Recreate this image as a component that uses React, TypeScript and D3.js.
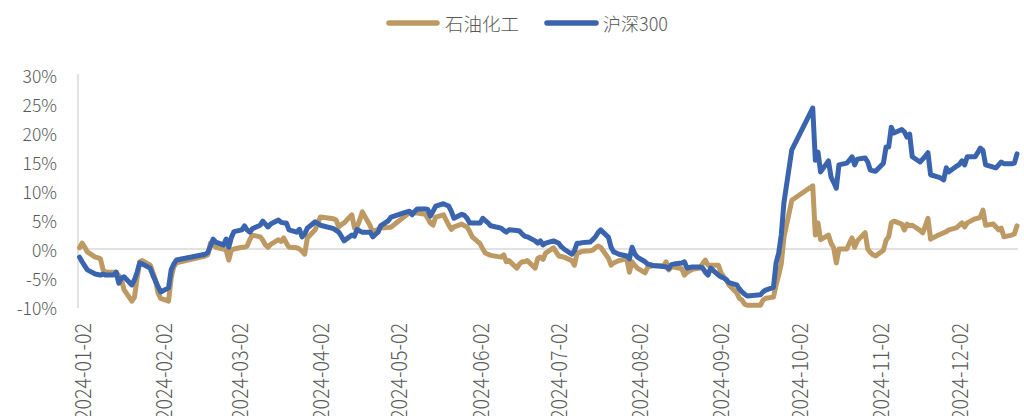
import React from "react";
import * as d3 from "d3";

// 石油化工 cumulative return (%), by trading day of 2024
const petroSeries: [string, number][] = [
  ["01-02", 0.2], ["01-03", 1.0], ["01-04", 0.3], ["01-05", -0.5], ["01-08", -1.4], ["01-09", -1.5], ["01-10", -1.7],
  ["01-11", -3.6], ["01-12", -4.0], ["01-15", -4.0], ["01-16", -4.0], ["01-17", -4.6], ["01-18", -5.3], ["01-19", -7.0],
  ["01-22", -9.0], ["01-23", -8.3], ["01-24", -5.0], ["01-25", -2.2], ["01-26", -2.0], ["01-29", -2.8], ["01-30", -4.0],
  ["01-31", -5.3], ["02-01", -7.6], ["02-02", -8.5], ["02-05", -9.0], ["02-06", -5.0], ["02-07", -3.1], ["02-08", -2.4],
  ["02-19", -1.2], ["02-20", -1.0], ["02-21", 1.0], ["02-22", 0.8], ["02-23", 0.3], ["02-26", 0.0], ["02-27", -0.2],
  ["02-28", -1.9], ["02-29", -0.2], ["03-01", 0.0], ["03-04", 0.3], ["03-05", 0.3], ["03-06", 0.5], ["03-07", 1.6],
  ["03-08", 2.4], ["03-11", 2.1], ["03-12", 1.5], ["03-13", 0.7], ["03-14", 0.3], ["03-15", 0.8], ["03-18", 1.6],
  ["03-19", 1.3], ["03-20", 1.9], ["03-21", 1.0], ["03-22", 0.3], ["03-25", 0.2], ["03-26", 0.0], ["03-27", -0.4],
  ["03-28", -0.9], ["03-29", 1.9], ["04-01", 3.3], ["04-02", 4.5], ["04-03", 5.5], ["04-08", 5.2], ["04-09", 5.0],
  ["04-10", 3.8], ["04-11", 4.2], ["04-12", 4.5], ["04-15", 5.9], ["04-16", 3.6], ["04-17", 3.8], ["04-18", 5.0],
  ["04-19", 6.4], ["04-22", 4.0], ["04-23", 2.9], ["04-24", 3.2], ["04-25", 3.4], ["04-26", 3.6], ["04-29", 3.7],
  ["04-30", 3.8], ["05-06", 5.9], ["05-07", 6.2], ["05-08", 6.2], ["05-09", 6.2], ["05-10", 6.2], ["05-13", 6.0],
  ["05-14", 5.3], ["05-15", 4.5], ["05-16", 4.1], ["05-17", 5.5], ["05-20", 5.9], ["05-21", 5.0], ["05-22", 4.1],
  ["05-23", 3.4], ["05-24", 3.8], ["05-27", 4.3], ["05-28", 4.0], ["05-29", 3.8], ["05-30", 3.0], ["05-31", 2.1],
  ["06-03", 0.9], ["06-04", 0.0], ["06-05", -0.7], ["06-06", -0.9], ["06-07", -1.1], ["06-11", -1.4], ["06-12", -1.0],
  ["06-13", -2.2], ["06-14", -2.0], ["06-17", -3.3], ["06-18", -2.6], ["06-19", -2.2], ["06-20", -2.2], ["06-21", -2.0],
  ["06-24", -3.3], ["06-25", -1.6], ["06-26", -1.4], ["06-27", -1.8], ["06-28", -0.7], ["07-01", 0.2], ["07-02", -0.5],
  ["07-03", -1.2], ["07-04", -1.3], ["07-05", -1.4], ["07-08", -2.0], ["07-09", -2.8], ["07-10", -0.7], ["07-11", -0.6],
  ["07-12", -0.4], ["07-15", -0.3], ["07-16", -0.2], ["07-17", 0.2], ["07-18", 0.5], ["07-19", 0.3], ["07-22", -1.6],
  ["07-23", -2.8], ["07-24", -2.4], ["07-25", -2.2], ["07-26", -2.0], ["07-29", -1.7], ["07-30", -4.0], ["07-31", -2.2],
  ["08-01", -2.8], ["08-02", -3.3], ["08-05", -4.1], ["08-06", -3.1], ["08-07", -3.0], ["08-08", -2.8], ["08-09", -2.9],
  ["08-12", -2.9], ["08-13", -2.2], ["08-14", -3.6], ["08-15", -3.1], ["08-16", -3.1], ["08-19", -3.4], ["08-20", -4.5],
  ["08-21", -4.0], ["08-22", -3.8], ["08-23", -3.5], ["08-26", -3.3], ["08-27", -2.5], ["08-28", -1.9], ["08-29", -2.8],
  ["08-30", -2.8], ["09-02", -2.8], ["09-03", -4.1], ["09-04", -4.8], ["09-05", -5.3], ["09-06", -6.2], ["09-09", -7.6],
  ["09-10", -8.5], ["09-11", -8.8], ["09-12", -9.5], ["09-13", -9.7], ["09-18", -9.7], ["09-19", -8.8], ["09-20", -8.5],
  ["09-23", -8.3], ["09-24", -6.2], ["09-25", -4.5], ["09-26", -2.5], ["09-27", 2.0], ["09-30", 8.4], ["10-08", 10.9],
  ["10-09", 2.4], ["10-10", 4.5], ["10-11", 1.6], ["10-14", 2.4], ["10-15", 1.0], ["10-16", 0.2], ["10-17", -2.4],
  ["10-18", 0.0], ["10-21", 0.0], ["10-22", 1.0], ["10-23", 1.9], ["10-24", 0.3], ["10-25", 1.4], ["10-28", 2.8],
  ["10-29", 0.0], ["10-30", -0.6], ["10-31", -1.0], ["11-01", -1.2], ["11-04", -0.2], ["11-05", 1.5], ["11-06", 2.1],
  ["11-07", 4.5], ["11-08", 4.8], ["11-11", 4.3], ["11-12", 3.3], ["11-13", 4.3], ["11-14", 4.0], ["11-15", 4.1],
  ["11-18", 3.2], ["11-19", 2.8], ["11-20", 4.0], ["11-21", 5.3], ["11-22", 1.7], ["11-25", 2.4], ["11-26", 2.6],
  ["11-27", 2.8], ["11-28", 3.0], ["11-29", 3.3], ["12-02", 3.7], ["12-03", 4.1], ["12-04", 4.5], ["12-05", 3.8],
  ["12-06", 4.5], ["12-09", 5.2], ["12-10", 5.3], ["12-11", 5.5], ["12-12", 6.7], ["12-13", 4.1], ["12-16", 4.3],
  ["12-17", 3.8], ["12-18", 3.3], ["12-19", 3.6], ["12-20", 2.1], ["12-23", 2.4], ["12-24", 2.6], ["12-25", 4.0],
];

// 沪深300 cumulative return (%)
const hs300Series: [string, number][] = [
  ["01-02", -1.4], ["01-03", -2.2], ["01-04", -2.9], ["01-05", -3.6], ["01-08", -4.3], ["01-09", -4.4], ["01-10", -4.5],
  ["01-11", -4.3], ["01-12", -4.5], ["01-15", -4.5], ["01-16", -4.0], ["01-17", -5.9], ["01-18", -5.0], ["01-19", -4.8],
  ["01-22", -6.2], ["01-23", -5.3], ["01-24", -4.0], ["01-25", -2.4], ["01-26", -2.6], ["01-29", -3.3], ["01-30", -4.5],
  ["01-31", -5.5], ["02-01", -6.5], ["02-02", -7.4], ["02-05", -6.7], ["02-06", -3.6], ["02-07", -2.6], ["02-08", -1.9],
  ["02-19", -0.9], ["02-20", -0.6], ["02-21", 0.5], ["02-22", 1.7], ["02-23", 1.2], ["02-26", 0.7], ["02-27", 1.7],
  ["02-28", 0.3], ["02-29", 2.0], ["03-01", 3.0], ["03-04", 3.3], ["03-05", 4.0], ["03-06", 3.3], ["03-07", 2.9],
  ["03-08", 3.5], ["03-11", 4.1], ["03-12", 4.8], ["03-13", 4.3], ["03-14", 3.8], ["03-15", 4.3], ["03-18", 5.0],
  ["03-19", 4.6], ["03-20", 4.5], ["03-21", 4.5], ["03-22", 3.3], ["03-25", 2.9], ["03-26", 3.4], ["03-27", 2.1],
  ["03-28", 2.6], ["03-29", 3.6], ["04-01", 4.7], ["04-02", 4.4], ["04-03", 4.1], ["04-08", 3.5], ["04-09", 3.2],
  ["04-10", 2.9], ["04-11", 2.2], ["04-12", 1.4], ["04-15", 2.4], ["04-16", 2.2], ["04-17", 3.4], ["04-18", 3.1],
  ["04-19", 2.9], ["04-22", 2.9], ["04-23", 2.1], ["04-24", 2.5], ["04-25", 2.9], ["04-26", 4.0], ["04-29", 4.9],
  ["04-30", 5.5], ["05-06", 6.4], ["05-07", 6.5], ["05-08", 5.9], ["05-09", 6.5], ["05-10", 6.9], ["05-13", 6.9],
  ["05-14", 6.8], ["05-15", 5.7], ["05-16", 6.5], ["05-17", 7.4], ["05-20", 7.8], ["05-21", 7.6], ["05-22", 7.4],
  ["05-23", 6.5], ["05-24", 5.3], ["05-27", 6.0], ["05-28", 5.8], ["05-29", 5.3], ["05-30", 4.5], ["05-31", 4.5],
  ["06-03", 4.5], ["06-04", 5.3], ["06-05", 4.9], ["06-06", 4.5], ["06-07", 4.0], ["06-11", 3.6], ["06-12", 3.2],
  ["06-13", 2.9], ["06-14", 3.3], ["06-17", 3.2], ["06-18", 3.1], ["06-19", 2.6], ["06-20", 2.2], ["06-21", 2.1],
  ["06-24", 1.4], ["06-25", 1.0], ["06-26", 1.4], ["06-27", 0.7], ["06-28", 1.0], ["07-01", 1.4], ["07-02", 1.2],
  ["07-03", 1.0], ["07-04", 0.4], ["07-05", 0.0], ["07-08", -0.9], ["07-09", -0.3], ["07-10", 1.0], ["07-11", 1.0],
  ["07-12", 1.1], ["07-15", 1.2], ["07-16", 1.6], ["07-17", 2.1], ["07-18", 2.8], ["07-19", 3.3], ["07-22", 2.0],
  ["07-23", 0.3], ["07-24", -0.5], ["07-25", -0.7], ["07-26", -0.9], ["07-29", -1.2], ["07-30", -1.7], ["07-31", 0.3],
  ["08-01", -0.8], ["08-02", -1.4], ["08-05", -2.2], ["08-06", -2.6], ["08-07", -2.7], ["08-08", -2.9], ["08-09", -2.9],
  ["08-12", -3.0], ["08-13", -3.1], ["08-14", -3.4], ["08-15", -2.7], ["08-16", -2.6], ["08-19", -2.4], ["08-20", -2.2],
  ["08-21", -3.3], ["08-22", -3.2], ["08-23", -3.1], ["08-26", -3.1], ["08-27", -3.3], ["08-28", -4.0], ["08-29", -4.5],
  ["08-30", -3.3], ["09-02", -4.5], ["09-03", -4.8], ["09-04", -5.0], ["09-05", -5.3], ["09-06", -5.8], ["09-09", -6.2],
  ["09-10", -6.9], ["09-11", -7.4], ["09-12", -7.8], ["09-13", -8.1], ["09-18", -7.9], ["09-19", -7.4], ["09-20", -7.1],
  ["09-23", -6.6], ["09-24", -2.4], ["09-25", -0.7], ["09-26", 2.5], ["09-27", 8.0], ["09-30", 17.1], ["10-08", 24.3],
  ["10-09", 15.3], ["10-10", 16.7], ["10-11", 13.3], ["10-14", 15.2], ["10-15", 12.4], ["10-16", 11.5], ["10-17", 10.5],
  ["10-18", 14.5], ["10-21", 14.8], ["10-22", 15.3], ["10-23", 15.9], ["10-24", 14.5], ["10-25", 15.5], ["10-28", 15.7],
  ["10-29", 15.0], ["10-30", 13.6], ["10-31", 13.5], ["11-01", 13.4], ["11-04", 14.8], ["11-05", 17.6], ["11-06", 17.6],
  ["11-07", 21.0], ["11-08", 20.0], ["11-11", 20.6], ["11-12", 20.2], ["11-13", 19.3], ["11-14", 19.8], ["11-15", 15.9],
  ["11-18", 15.0], ["11-19", 15.5], ["11-20", 16.0], ["11-21", 16.6], ["11-22", 12.8], ["11-25", 12.4], ["11-26", 12.2],
  ["11-27", 11.9], ["11-28", 14.0], ["11-29", 13.3], ["12-02", 14.3], ["12-03", 14.6], ["12-04", 15.2], ["12-05", 14.5],
  ["12-06", 15.9], ["12-09", 15.9], ["12-10", 16.6], ["12-11", 17.4], ["12-12", 17.0], ["12-13", 14.5], ["12-16", 14.1],
  ["12-17", 14.0], ["12-18", 14.5], ["12-19", 15.0], ["12-20", 14.7], ["12-23", 14.7], ["12-24", 14.8], ["12-25", 16.4],
];

const seriesNames = ["石油化工", "沪深300"];
const seriesColors = ["#BD9A63", "#3B64AE"];
const yTicks = [-10, -5, 0, 5, 10, 15, 20, 25, 30];
const xTickLabels = [
  "2024-01-02", "2024-02-02", "2024-03-02", "2024-04-02", "2024-05-02", "2024-06-02",
  "2024-07-02", "2024-08-02", "2024-09-02", "2024-10-02", "2024-11-02", "2024-12-02",
];

const FONT = '"Noto Sans CJK SC", "Noto Sans", sans-serif';
const TEXT = "#595959";

export default function App() {
  const W = 1024;
  const H = 416;
  const parse = d3.timeParse("%Y-%m-%d");
  const toDate = (md: string) => parse("2024-" + md) as Date;

  const x = d3
    .scaleTime()
    .domain([toDate("01-02"), toDate("12-25")])
    .range([79.5, 1017]);
  const y = d3.scaleLinear().domain([-10, 30]).range([307, 75]);

  const line = d3
    .line<[string, number]>()
    .x((d) => x(toDate(d[0])))
    .y((d) => y(d[1]));

  const all = [petroSeries, hs300Series];
  const axisX = 78;

  const legendItems = [
    { lx1: 389, lx2: 437, tx: 445, len: 74 },
    { lx1: 547, lx2: 596, tx: 603, len: 65 },
  ];

  return (
    <svg
      width={W}
      height={H}
      style={{ position: "absolute", left: 0, top: 0, background: "#fff" }}
      fontFamily={FONT}
      fontWeight={300}
    >
      <rect x={0} y={0} width={W} height={H} fill="#fff" />
      {/* legend */}
      {legendItems.map((it, i) => (
        <g key={i}>
          <line
            x1={it.lx1}
            x2={it.lx2}
            y1={23}
            y2={23}
            stroke={seriesColors[i]}
            strokeWidth={5.5}
            strokeLinecap="round"
          />
          <text
            x={it.tx}
            y={23}
            fontSize={18.5}
            fill={TEXT}
            dominantBaseline="central"
            textLength={it.len}
            lengthAdjust="spacingAndGlyphs"
          >
            {seriesNames[i]}
          </text>
        </g>
      ))}

      {/* y labels */}
      {yTicks.map((t) => (
        <text
          key={t}
          x={57}
          y={y(t)}
          fontSize={17.5}
          fill={TEXT}
          textAnchor="end"
          dominantBaseline="central"
        >
          {`${t}%`}
        </text>
      ))}

      {/* axes */}
      <line x1={axisX} x2={axisX} y1={y(30) - 1} y2={y(-10) + 1} stroke="#D9D9D9" strokeWidth={1.5} />
      <line x1={axisX} x2={1018} y1={y(0)} y2={y(0)} stroke="#D9D9D9" strokeWidth={1.5} />

      {/* x labels */}
      {xTickLabels.map((s) => {
        const px = x(parse(s) as Date) + 1;
        return (
          <text
            key={s}
            transform={`translate(${px},323) rotate(-90)`}
            fontSize={22}
            fill={TEXT}
            textAnchor="end"
            dominantBaseline="central"
            textLength={97}
            lengthAdjust="spacingAndGlyphs"
          >
            {s}
          </text>
        );
      })}

      {/* series */}
      {all.map((s, i) => (
        <path
          key={i}
          d={line(s) || ""}
          fill="none"
          stroke={seriesColors[i]}
          strokeWidth={5}
          strokeLinejoin="round"
          strokeLinecap="round"
        />
      ))}
    </svg>
  );
}
